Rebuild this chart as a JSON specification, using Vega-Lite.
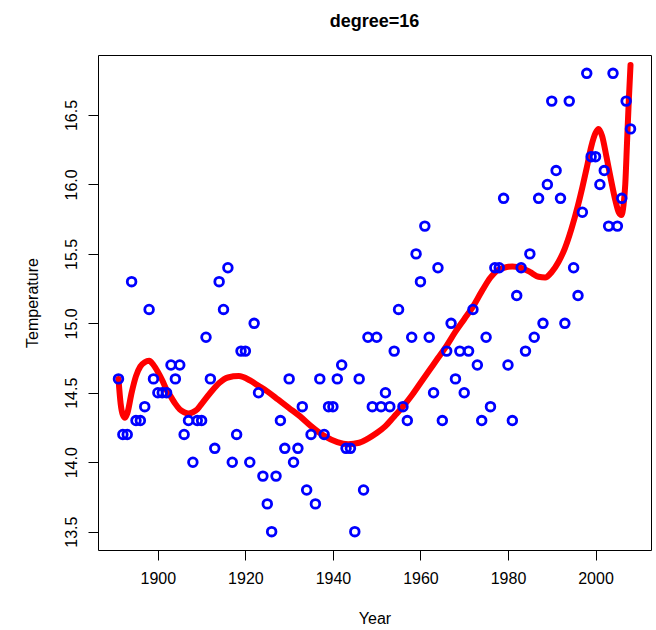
{
  "$schema": "https://vega.github.io/schema/vega-lite/v6.json",
  "autosize": {"type": "none"},
  "padding": {"left": 98, "top": 55, "right": 5, "bottom": 80},
  "width": 553,
  "height": 495,
  "background": "white",
  "title": {
    "text": "degree=16",
    "font": "Liberation Sans",
    "fontSize": 18,
    "fontWeight": "bold",
    "color": "black",
    "anchor": "middle",
    "frame": "group",
    "baseline": "alphabetic",
    "offset": 10
  },
  "config": {
    "view": {"stroke": "black", "strokeWidth": 1},
    "axis": {
      "grid": false,
      "domain": false,
      "tickColor": "black",
      "tickWidth": 1,
      "tickSize": 10,
      "labelFont": "Liberation Sans",
      "labelFontSize": 16,
      "labelColor": "black",
      "titleFont": "Liberation Sans",
      "titleFontSize": 16,
      "titleFontWeight": "normal",
      "titleColor": "black"
    }
  },
  "datasets": {
    "temps": [
      {"Year": 1891, "Temperature": 14.6}, {"Year": 1892, "Temperature": 14.2}, {"Year": 1893, "Temperature": 14.2},
      {"Year": 1894, "Temperature": 15.3}, {"Year": 1895, "Temperature": 14.3}, {"Year": 1896, "Temperature": 14.3},
      {"Year": 1897, "Temperature": 14.4}, {"Year": 1898, "Temperature": 15.1}, {"Year": 1899, "Temperature": 14.6},
      {"Year": 1900, "Temperature": 14.5}, {"Year": 1901, "Temperature": 14.5}, {"Year": 1902, "Temperature": 14.5},
      {"Year": 1903, "Temperature": 14.7}, {"Year": 1904, "Temperature": 14.6}, {"Year": 1905, "Temperature": 14.7},
      {"Year": 1906, "Temperature": 14.2}, {"Year": 1907, "Temperature": 14.3}, {"Year": 1908, "Temperature": 14.0},
      {"Year": 1909, "Temperature": 14.3}, {"Year": 1910, "Temperature": 14.3}, {"Year": 1911, "Temperature": 14.9},
      {"Year": 1912, "Temperature": 14.6}, {"Year": 1913, "Temperature": 14.1}, {"Year": 1914, "Temperature": 15.3},
      {"Year": 1915, "Temperature": 15.1}, {"Year": 1916, "Temperature": 15.4}, {"Year": 1917, "Temperature": 14.0},
      {"Year": 1918, "Temperature": 14.2}, {"Year": 1919, "Temperature": 14.8}, {"Year": 1920, "Temperature": 14.8},
      {"Year": 1921, "Temperature": 14.0}, {"Year": 1922, "Temperature": 15.0}, {"Year": 1923, "Temperature": 14.5},
      {"Year": 1924, "Temperature": 13.9}, {"Year": 1925, "Temperature": 13.7}, {"Year": 1926, "Temperature": 13.5},
      {"Year": 1927, "Temperature": 13.9}, {"Year": 1928, "Temperature": 14.3}, {"Year": 1929, "Temperature": 14.1},
      {"Year": 1930, "Temperature": 14.6}, {"Year": 1931, "Temperature": 14.0}, {"Year": 1932, "Temperature": 14.1},
      {"Year": 1933, "Temperature": 14.4}, {"Year": 1934, "Temperature": 13.8}, {"Year": 1935, "Temperature": 14.2},
      {"Year": 1936, "Temperature": 13.7}, {"Year": 1937, "Temperature": 14.6}, {"Year": 1938, "Temperature": 14.2},
      {"Year": 1939, "Temperature": 14.4}, {"Year": 1940, "Temperature": 14.4}, {"Year": 1941, "Temperature": 14.6},
      {"Year": 1942, "Temperature": 14.7}, {"Year": 1943, "Temperature": 14.1}, {"Year": 1944, "Temperature": 14.1},
      {"Year": 1945, "Temperature": 13.5}, {"Year": 1946, "Temperature": 14.6}, {"Year": 1947, "Temperature": 13.8},
      {"Year": 1948, "Temperature": 14.9}, {"Year": 1949, "Temperature": 14.4}, {"Year": 1950, "Temperature": 14.9},
      {"Year": 1951, "Temperature": 14.4}, {"Year": 1952, "Temperature": 14.5}, {"Year": 1953, "Temperature": 14.4},
      {"Year": 1954, "Temperature": 14.8}, {"Year": 1955, "Temperature": 15.1}, {"Year": 1956, "Temperature": 14.4},
      {"Year": 1957, "Temperature": 14.3}, {"Year": 1958, "Temperature": 14.9}, {"Year": 1959, "Temperature": 15.5},
      {"Year": 1960, "Temperature": 15.3}, {"Year": 1961, "Temperature": 15.7}, {"Year": 1962, "Temperature": 14.9},
      {"Year": 1963, "Temperature": 14.5}, {"Year": 1964, "Temperature": 15.4}, {"Year": 1965, "Temperature": 14.3},
      {"Year": 1966, "Temperature": 14.8}, {"Year": 1967, "Temperature": 15.0}, {"Year": 1968, "Temperature": 14.6},
      {"Year": 1969, "Temperature": 14.8}, {"Year": 1970, "Temperature": 14.5}, {"Year": 1971, "Temperature": 14.8},
      {"Year": 1972, "Temperature": 15.1}, {"Year": 1973, "Temperature": 14.7}, {"Year": 1974, "Temperature": 14.3},
      {"Year": 1975, "Temperature": 14.9}, {"Year": 1976, "Temperature": 14.4}, {"Year": 1977, "Temperature": 15.4},
      {"Year": 1978, "Temperature": 15.4}, {"Year": 1979, "Temperature": 15.9}, {"Year": 1980, "Temperature": 14.7},
      {"Year": 1981, "Temperature": 14.3}, {"Year": 1982, "Temperature": 15.2}, {"Year": 1983, "Temperature": 15.4},
      {"Year": 1984, "Temperature": 14.8}, {"Year": 1985, "Temperature": 15.5}, {"Year": 1986, "Temperature": 14.9},
      {"Year": 1987, "Temperature": 15.9}, {"Year": 1988, "Temperature": 15.0}, {"Year": 1989, "Temperature": 16.0},
      {"Year": 1990, "Temperature": 16.6}, {"Year": 1991, "Temperature": 16.1}, {"Year": 1992, "Temperature": 15.9},
      {"Year": 1993, "Temperature": 15.0}, {"Year": 1994, "Temperature": 16.6}, {"Year": 1995, "Temperature": 15.4},
      {"Year": 1996, "Temperature": 15.2}, {"Year": 1997, "Temperature": 15.8}, {"Year": 1998, "Temperature": 16.8},
      {"Year": 1999, "Temperature": 16.2}, {"Year": 2000, "Temperature": 16.2}, {"Year": 2001, "Temperature": 16.0},
      {"Year": 2002, "Temperature": 16.1}, {"Year": 2003, "Temperature": 15.7}, {"Year": 2004, "Temperature": 16.8},
      {"Year": 2005, "Temperature": 15.7}, {"Year": 2006, "Temperature": 15.9}, {"Year": 2007, "Temperature": 16.6},
      {"Year": 2008, "Temperature": 16.4}
    ],
    "fit": [
      {"Year": 1891.0, "Fitted": 14.60}, {"Year": 1891.5, "Fitted": 14.42}, {"Year": 1892.0, "Fitted": 14.34},
      {"Year": 1892.5, "Fitted": 14.32}, {"Year": 1893.0, "Fitted": 14.35}, {"Year": 1894.0, "Fitted": 14.50},
      {"Year": 1895.0, "Fitted": 14.62}, {"Year": 1896.0, "Fitted": 14.69}, {"Year": 1897.0, "Fitted": 14.72},
      {"Year": 1898.0, "Fitted": 14.73}, {"Year": 1899.0, "Fitted": 14.70}, {"Year": 1900.0, "Fitted": 14.65},
      {"Year": 1901.0, "Fitted": 14.59}, {"Year": 1902.0, "Fitted": 14.52}, {"Year": 1903.0, "Fitted": 14.47},
      {"Year": 1904.0, "Fitted": 14.42}, {"Year": 1905.0, "Fitted": 14.38}, {"Year": 1906.0, "Fitted": 14.36},
      {"Year": 1907.0, "Fitted": 14.35}, {"Year": 1908.0, "Fitted": 14.36}, {"Year": 1909.0, "Fitted": 14.38},
      {"Year": 1910.0, "Fitted": 14.42}, {"Year": 1912.0, "Fitted": 14.50}, {"Year": 1914.0, "Fitted": 14.57},
      {"Year": 1916.0, "Fitted": 14.61}, {"Year": 1918.5, "Fitted": 14.62}, {"Year": 1921.0, "Fitted": 14.59},
      {"Year": 1923.0, "Fitted": 14.55}, {"Year": 1925.0, "Fitted": 14.51}, {"Year": 1927.5, "Fitted": 14.45},
      {"Year": 1930.0, "Fitted": 14.39}, {"Year": 1932.5, "Fitted": 14.33}, {"Year": 1935.0, "Fitted": 14.26},
      {"Year": 1938.0, "Fitted": 14.19}, {"Year": 1941.0, "Fitted": 14.145}, {"Year": 1943.5, "Fitted": 14.13},
      {"Year": 1946.0, "Fitted": 14.14}, {"Year": 1948.0, "Fitted": 14.17}, {"Year": 1950.0, "Fitted": 14.21},
      {"Year": 1952.0, "Fitted": 14.26}, {"Year": 1954.0, "Fitted": 14.33}, {"Year": 1956.0, "Fitted": 14.40},
      {"Year": 1958.0, "Fitted": 14.48}, {"Year": 1960.0, "Fitted": 14.57}, {"Year": 1962.0, "Fitted": 14.66},
      {"Year": 1964.0, "Fitted": 14.75}, {"Year": 1966.0, "Fitted": 14.84}, {"Year": 1968.0, "Fitted": 14.94},
      {"Year": 1970.0, "Fitted": 15.03}, {"Year": 1972.0, "Fitted": 15.12}, {"Year": 1974.0, "Fitted": 15.23},
      {"Year": 1976.0, "Fitted": 15.33}, {"Year": 1977.5, "Fitted": 15.38}, {"Year": 1979.0, "Fitted": 15.40},
      {"Year": 1981.0, "Fitted": 15.41}, {"Year": 1983.0, "Fitted": 15.40}, {"Year": 1985.0, "Fitted": 15.37},
      {"Year": 1987.0, "Fitted": 15.335}, {"Year": 1988.5, "Fitted": 15.33}, {"Year": 1990.0, "Fitted": 15.37},
      {"Year": 1991.5, "Fitted": 15.44}, {"Year": 1993.0, "Fitted": 15.54}, {"Year": 1994.5, "Fitted": 15.68},
      {"Year": 1996.0, "Fitted": 15.85}, {"Year": 1997.0, "Fitted": 15.98}, {"Year": 1998.0, "Fitted": 16.12},
      {"Year": 1999.0, "Fitted": 16.27}, {"Year": 2000.0, "Fitted": 16.37}, {"Year": 2000.7, "Fitted": 16.40},
      {"Year": 2001.5, "Fitted": 16.35}, {"Year": 2002.5, "Fitted": 16.20}, {"Year": 2003.5, "Fitted": 16.04},
      {"Year": 2004.5, "Fitted": 15.89}, {"Year": 2005.3, "Fitted": 15.80}, {"Year": 2005.9, "Fitted": 15.78},
      {"Year": 2006.4, "Fitted": 15.85}, {"Year": 2006.8, "Fitted": 16.00}, {"Year": 2007.2, "Fitted": 16.30},
      {"Year": 2007.6, "Fitted": 16.60}, {"Year": 2008.0, "Fitted": 16.86}
    ]
  },
  "encoding": {
    "x": {
      "type": "quantitative",
      "scale": {"domain": [1886.32, 2012.68], "nice": false, "zero": false},
      "axis": {
        "title": "Year",
        "values": [1900, 1920, 1940, 1960, 1980, 2000],
        "format": "d",
        "labelPadding": 10,
        "labelFlush": false,
        "titleX": 276.5,
        "titleY": 73,
        "titleAlign": "center",
        "titleBaseline": "alphabetic"
      }
    },
    "y": {
      "type": "quantitative",
      "scale": {"domain": [13.368, 16.932], "nice": false, "zero": false},
      "axis": {
        "title": "Temperature",
        "values": [13.5, 14, 14.5, 15, 15.5, 16, 16.5],
        "format": ".1f",
        "labelAngle": -90,
        "labelAlign": "center",
        "labelBaseline": "bottom",
        "labelPadding": 9,
        "labelFlush": false,
        "titleAngle": -90,
        "titleX": -61,
        "titleY": 247.5,
        "titleAlign": "center",
        "titleBaseline": "alphabetic"
      }
    }
  },
  "layer": [
    {
      "data": {"name": "fit"},
      "mark": {"type": "line", "color": "#ff0000", "strokeWidth": 6, "strokeCap": "round", "strokeJoin": "round", "interpolate": "monotone", "clip": false},
      "encoding": {
        "x": {"field": "Year"},
        "y": {"field": "Fitted"}
      }
    },
    {
      "data": {"name": "temps"},
      "mark": {"type": "point", "shape": "circle", "filled": false, "color": "#0000ff", "strokeWidth": 2.8, "size": 75, "opacity": 1},
      "encoding": {
        "x": {"field": "Year"},
        "y": {"field": "Temperature"}
      }
    }
  ]
}
